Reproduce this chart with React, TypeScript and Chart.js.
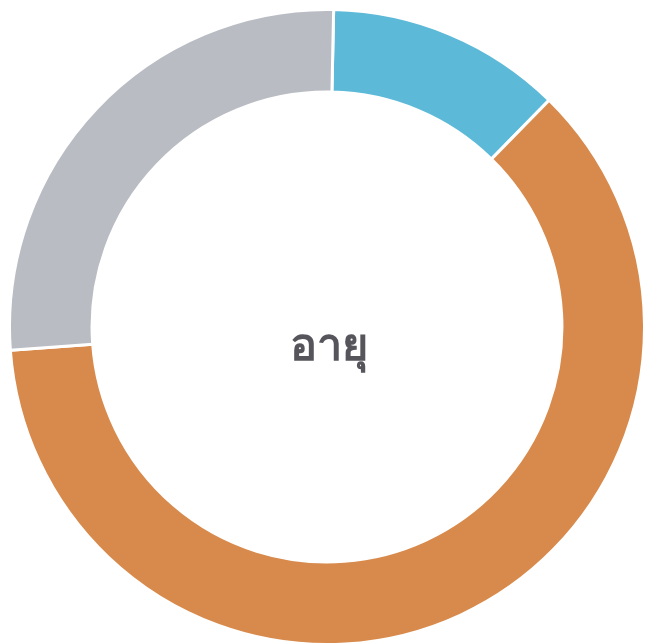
import React, { useEffect, useRef } from "react";
import { Chart, registerables } from "chart.js";

Chart.register(...registerables);

const labels = ["กลุ่ม 1", "กลุ่ม 2", "กลุ่ม 3"];
const values = [12, 61.5, 26.5];
const colors = ["#5db9d8", "#d88a4c", "#b9bcc3"];
const centerTitle = "อายุ";

export default function App() {
  const ref = useRef<HTMLCanvasElement | null>(null);
  useEffect(() => {
    if (!ref.current) return;
    const centerText = {
      id: "centerText",
      afterDraw(chart: any) {
        const { ctx, chartArea } = chart;
        const cx = (chartArea.left + chartArea.right) / 2;
        const cy = (chartArea.top + chartArea.bottom) / 2;
        ctx.save();
        ctx.fillStyle = "#55555b";
        ctx.font = "bold 45px 'Noto Sans', 'DejaVu Sans', sans-serif";
        ctx.textAlign = "center";
        ctx.textBaseline = "alphabetic";
        ctx.fillText(centerTitle, cx + 2, cy + 33);
        ctx.restore();
      },
    };
    const chart = new Chart(ref.current, {
      type: "doughnut",
      data: {
        labels,
        datasets: [
          {
            data: values,
            backgroundColor: colors,
            borderColor: "#ffffff",
            borderWidth: 3,
          },
        ],
      },
      options: {
        animation: false,
        responsive: false,
        cutout: "74%",
        rotation: 1.2,
        layout: { padding: 0 },
        plugins: { legend: { display: false }, tooltip: { enabled: false } },
      },
      plugins: [centerText],
    });
    return () => chart.destroy();
  }, []);
  return (
    <div style={{ position: "fixed", left: 8, top: 8, width: 638, height: 638 }}>
      <canvas ref={ref} width={638} height={638} style={{ width: 638, height: 638 }} />
    </div>
  );
}
